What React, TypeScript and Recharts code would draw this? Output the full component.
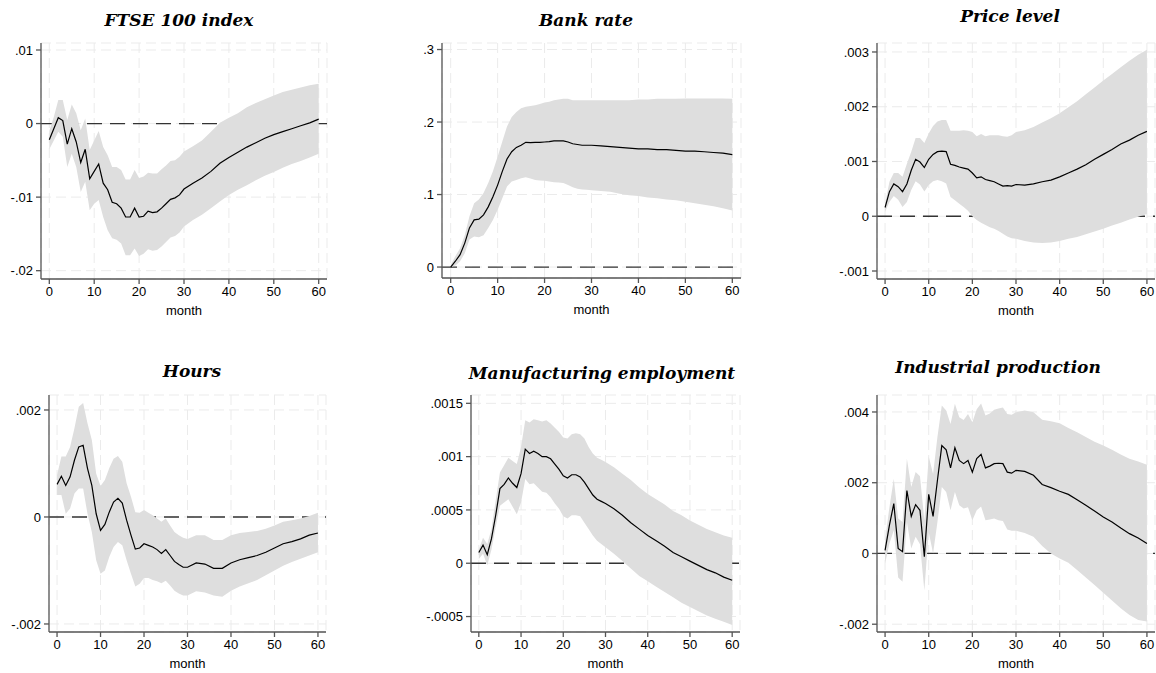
import React from 'react'
import {
  ComposedChart, Area, Line, XAxis, YAxis, CartesianGrid, ReferenceLine
} from 'recharts'

const months = [
  0, 1, 2, 3, 4, 5, 6, 7, 8, 9, 10, 11, 12, 13, 14, 15, 16, 17, 18, 19, 20,
  21, 22, 23, 24, 25, 26, 27, 28, 29, 30,
  32, 34, 36, 38, 40, 42, 44, 46, 48, 50, 52, 54, 56, 58, 60,
]
const monthTicks = [0, 10, 20, 30, 40, 50, 60]

// FTSE 100 index
const ftseIrf = [
  -0.0022, -0.0007, 0.0008, 0.0004, -0.0028, -0.0007, -0.0025, -0.0053, -0.0035, -0.0075, -0.0065,
  -0.0055, -0.0081, -0.009, -0.0107, -0.0109, -0.0115, -0.0127, -0.0127, -0.0115, -0.0127,
  -0.0126, -0.0119, -0.0121, -0.012, -0.0115, -0.0109, -0.0103, -0.0101, -0.0097, -0.0089,
  -0.0081, -0.0074, -0.0065, -0.0054, -0.0046, -0.0039, -0.0032, -0.0026, -0.002, -0.0015,
  -0.0011, -0.0007, -0.0003, 0.0001, 0.0006,
]
const ftseHi = [
  -0.001, 0.0009, 0.0032, 0.0032, 0.0005, 0.0026, 0.0014, -0.0009, 0.0007, -0.0036, -0.0023,
  -0.001, -0.0032, -0.0043, -0.0059, -0.0059, -0.0063, -0.0076, -0.0076, -0.0063, -0.0074,
  -0.0072, -0.0067, -0.0068, -0.0068, -0.0062, -0.0057, -0.0051, -0.005, -0.0045, -0.0038,
  -0.0031, -0.0023, -0.0011, 0.0001, 0.0008, 0.0014, 0.0022, 0.0028, 0.0033, 0.0038,
  0.0043, 0.0046, 0.0049, 0.0052, 0.0054,
]
const ftseLo = [
  -0.0035, -0.0023, -0.0011, -0.0018, -0.0059, -0.0041, -0.0059, -0.0093, -0.0079, -0.0118, -0.0109,
  -0.0104, -0.0127, -0.0145, -0.0156, -0.0158, -0.0163, -0.0179, -0.0179, -0.017, -0.018,
  -0.0177, -0.0171, -0.0173, -0.0172, -0.0167, -0.0161, -0.0155, -0.0153, -0.0148, -0.014,
  -0.0131, -0.0124, -0.0115, -0.0106, -0.0097, -0.009, -0.0084, -0.0077, -0.0071, -0.0066,
  -0.006, -0.0055, -0.0051, -0.0046, -0.0041,
]

// Bank rate
const bankIrf = [
  0, 0.008, 0.017, 0.033, 0.054, 0.065, 0.066, 0.072, 0.083, 0.097, 0.113,
  0.132, 0.149, 0.159, 0.165, 0.168, 0.172, 0.1715, 0.172, 0.172, 0.1725,
  0.173, 0.174, 0.174, 0.174, 0.1725, 0.17, 0.169, 0.168, 0.168, 0.168,
  0.167, 0.166, 0.165, 0.164, 0.163, 0.163, 0.162, 0.162, 0.161, 0.16,
  0.16, 0.159, 0.158, 0.157, 0.155,
]
const bankHi = [
  0.003, 0.015, 0.026, 0.044, 0.07, 0.088, 0.093, 0.102, 0.116, 0.132, 0.152,
  0.173, 0.194, 0.207, 0.214, 0.219, 0.221, 0.222, 0.223, 0.225, 0.227,
  0.228, 0.23, 0.231, 0.232, 0.232, 0.23, 0.23, 0.23, 0.23, 0.23,
  0.23, 0.23, 0.23, 0.23, 0.231, 0.231, 0.232, 0.232, 0.232, 0.2325,
  0.2325, 0.2325, 0.2325, 0.2325, 0.232,
]
const bankLo = [
  0, 0.002, 0.008, 0.019, 0.038, 0.042, 0.041, 0.044, 0.054, 0.065, 0.079,
  0.095, 0.111, 0.118, 0.12, 0.1225, 0.124, 0.122, 0.12, 0.1195, 0.119,
  0.118, 0.117, 0.1165, 0.116, 0.113, 0.11, 0.108, 0.107, 0.1065, 0.106,
  0.105, 0.104, 0.101, 0.099, 0.098, 0.096, 0.095, 0.093, 0.092, 0.09,
  0.088, 0.086, 0.084, 0.081, 0.078,
]

// Price level
const priceIrf = [
  0.00016, 0.00045, 0.00059, 0.00054, 0.00045, 0.00059, 0.00084, 0.00104, 0.00099, 0.00089, 0.00104,
  0.00113, 0.00118, 0.00119, 0.00118, 0.00095, 0.00093, 0.0009, 0.00088, 0.00086, 0.00079,
  0.0007, 0.00072, 0.00067, 0.00065, 0.00063, 0.00059, 0.00055, 0.00056, 0.00055, 0.00058,
  0.00057, 0.00059, 0.00063, 0.00066, 0.00072, 0.00079, 0.00086, 0.00094, 0.00104, 0.00113,
  0.00122, 0.00132, 0.00139, 0.00148, 0.00155,
]
const priceHi = [
  0.00023, 0.00063, 0.00079, 0.00079, 0.00072, 0.00096, 0.00118, 0.00143, 0.00143, 0.00134, 0.00151,
  0.00165, 0.00173, 0.00176, 0.00176, 0.00156, 0.00156, 0.00156, 0.00157, 0.00156, 0.00154,
  0.00146, 0.0015, 0.00146, 0.00148, 0.00148, 0.00148, 0.00146, 0.00145, 0.00148, 0.00154,
  0.00157, 0.00163, 0.00171, 0.00179, 0.00188, 0.00199, 0.0021, 0.00223, 0.00235, 0.00248,
  0.0026, 0.00272, 0.00284, 0.00295, 0.00304,
]
const priceLo = [
  0.00008, 0.00026, 0.00037, 0.0003, 0.00017, 0.00026, 0.00048, 0.00064, 0.00058, 0.00045, 0.00057,
  0.00064, 0.00066, 0.00064, 0.0006, 0.00035, 0.00029, 0.00023, 0.00017, 0.0001, 0,
  -0.00007, -0.00012, -0.00016, -0.0002, -0.00023, -0.00027, -0.00032, -0.00037, -0.0004, -0.00041,
  -0.00045, -0.00048, -0.00049, -0.00048, -0.00045, -0.00041, -0.00038, -0.00033, -0.00028, -0.00023,
  -0.00017, -0.00012, -0.00006, -0.00001, 0.00004,
]

// Hours
const hoursIrf = [
  0.00061, 0.00076, 0.00059, 0.00075, 0.00106, 0.00131, 0.00134, 0.00091, 0.00059, 0.00006, -0.00025,
  -0.00014, 0.00009, 0.00028, 0.00035, 0.00026, -0.00006, -0.00034, -0.0006, -0.00058, -0.0005,
  -0.00053, -0.00056, -0.00061, -0.00068, -0.00061, -0.00072, -0.00083, -0.00089, -0.00094, -0.00094,
  -0.00086, -0.00088, -0.00096, -0.00096, -0.00086, -0.0008, -0.00076, -0.00072, -0.00066, -0.00058,
  -0.0005, -0.00046, -0.00041, -0.00034, -0.0003,
]
const hoursHi = [
  0.00078, 0.00113, 0.00113, 0.00131, 0.00166, 0.00206, 0.00213, 0.00175, 0.00144, 0.00081, 0.00058,
  0.00069, 0.00091, 0.00109, 0.00114, 0.00103, 0.00063, 0.00038, 0.00009, 0.00008, 0.00013,
  0.00008, 0.00003, -0.00003, -0.00009, -0.00003, -0.00016, -0.00028, -0.00034, -0.00039, -0.00041,
  -0.00034, -0.00034, -0.00043, -0.00043, -0.00034, -0.0003, -0.00028, -0.00026, -0.00022, -0.00016,
  -0.00009, -0.00006, -0.00003, 0.00002, 0.00008,
]
const hoursLo = [
  0.00041, 0.00041, 0.00006, 0.00016, 0.00044, 0.00053, 0.00053, 0.00006, -0.00028, -0.00081, -0.00106,
  -0.001, -0.00075, -0.00056, -0.00047, -0.00053, -0.00081, -0.00106, -0.0013, -0.00125, -0.00114,
  -0.00114, -0.00118, -0.0012, -0.00124, -0.00119, -0.00128, -0.00138, -0.00143, -0.00147, -0.00147,
  -0.00139, -0.00141, -0.00147, -0.00149, -0.00138, -0.0013, -0.00124, -0.00118, -0.00109, -0.001,
  -0.00091, -0.00084, -0.00078, -0.00072, -0.00066,
]

// Manufacturing employment
const mfgIrf = [
  0.0001, 0.00017, 0.00008, 0.00023, 0.00045, 0.0007, 0.00074, 0.0008, 0.00075, 0.00071, 0.00084,
  0.00107, 0.00103, 0.00105, 0.00103, 0.001, 0.001, 0.00098, 0.00093, 0.00088, 0.00082,
  0.0008, 0.00083, 0.00083, 0.00081, 0.00076, 0.0007, 0.00064, 0.0006, 0.00058, 0.00056,
  0.00051, 0.00045, 0.00038, 0.00032, 0.00026, 0.00021, 0.00016, 0.0001, 0.00006, 0.00002,
  -0.00002, -0.00006, -0.00009, -0.00013, -0.00016,
]
const mfgHi = [
  0.00013, 0.00024, 0.00018, 0.00032, 0.00059, 0.00085, 0.00092, 0.00099, 0.00096, 0.00093, 0.00109,
  0.00134, 0.00132, 0.00135, 0.00134, 0.00133, 0.00134, 0.00131, 0.00127, 0.00123, 0.00118,
  0.00117, 0.00121, 0.00122, 0.00121, 0.00117, 0.00109, 0.00103, 0.00099, 0.00097, 0.00095,
  0.0009, 0.00084, 0.00078, 0.00071, 0.00065, 0.0006, 0.00055, 0.00049, 0.00045, 0.0004,
  0.00036, 0.00032, 0.00029, 0.00026, 0.00024,
]
const mfgLo = [
  0.00004, 0.00009, -0.00002, 0.00013, 0.00034, 0.00054, 0.00057, 0.0006, 0.00053, 0.00046, 0.00057,
  0.00079, 0.00074, 0.00075, 0.00071, 0.00067, 0.00066, 0.00062, 0.00056, 0.00051, 0.00044,
  0.00042, 0.00045, 0.00045, 0.00044, 0.00038, 0.00032, 0.00026, 0.00021, 0.00018, 0.00015,
  0.00009, 0.00002, -0.00005, -0.00012, -0.00017, -0.00022, -0.00027, -0.00032, -0.00037, -0.00041,
  -0.00045, -0.00049, -0.00052, -0.00055, -0.00058,
]

// Industrial production
const ipIrf = [
  0.00009, 0.0008, 0.00141, 0.00014, 0.00005, 0.00178, 0.00105, 0.00138, 0.00122, -0.00009, 0.00167,
  0.00105, 0.00207, 0.00305, 0.00293, 0.00242, 0.00299, 0.00263, 0.00254, 0.00263, 0.0023,
  0.00268, 0.0028, 0.00242, 0.00247, 0.00254, 0.00255, 0.00254, 0.0023, 0.00227, 0.00235,
  0.00232, 0.00221, 0.00195, 0.00186, 0.00176, 0.00167, 0.00152, 0.00136, 0.0012, 0.00103,
  0.00089, 0.00072, 0.00056, 0.00044, 0.00028,
]
const ipHi = [
  0.00038, 0.00131, 0.00211, 0.00099, 0.00089, 0.00268, 0.00188, 0.0023, 0.00218, 0.00094, 0.00274,
  0.00225, 0.00329, 0.00418, 0.00404, 0.00366, 0.00423, 0.00385, 0.00377, 0.00394, 0.00371,
  0.00408, 0.00424, 0.0039, 0.00396, 0.00406, 0.0041, 0.00413, 0.00394, 0.00392, 0.00399,
  0.00404, 0.00399, 0.00378, 0.00374, 0.00368, 0.00355, 0.00343, 0.00329, 0.00316, 0.00305,
  0.00293, 0.0028, 0.00268, 0.0026, 0.00251,
]
const ipLo = [
  -0.00028, 0.00028, 0.00066, -0.00068, -0.0008, 0.00089, 0.00014, 0.00047, 0.00026, -0.00105, 0.00061,
  0, 0.00089, 0.00188, 0.00174, 0.00122, 0.00174, 0.00136, 0.00127, 0.00131, 0.00094,
  0.00122, 0.00133, 0.00094, 0.00096, 0.00099, 0.00094, 0.00092, 0.00068, 0.00064, 0.00064,
  0.00058, 0.00047, 0.00021, 0, -0.00014, -0.00026, -0.00047, -0.00068, -0.00089, -0.00111,
  -0.00133, -0.00155, -0.00174, -0.00188, -0.00192,
]

const titles = [
  'FTSE 100 index', 'Bank rate', 'Price level',
  'Hours', 'Manufacturing employment', 'Industrial production',
]
const yTickSets = [
  [-0.02, -0.01, 0, 0.01],
  [0, 0.1, 0.2, 0.3],
  [-0.001, 0, 0.001, 0.002, 0.003],
  [-0.002, 0, 0.002],
  [-0.0005, 0, 0.0005, 0.001, 0.0015],
  [-0.002, 0, 0.002, 0.004],
]
const yDomains: [number, number][] = [
  [-0.02113, 0.01095],
  [-0.0151, 0.309],
  [-0.001146, 0.003164],
  [-0.00215, 0.00228],
  [-0.000645, 0.001578],
  [-0.00222, 0.00448],
]
const series = [
  [ftseIrf, ftseLo, ftseHi],
  [bankIrf, bankLo, bankHi],
  [priceIrf, priceLo, priceHi],
  [hoursIrf, hoursLo, hoursHi],
  [mfgIrf, mfgLo, mfgHi],
  [ipIrf, ipLo, ipHi],
]

// plot boxes (left, top, right, bottom) and title centres, in page pixels
const boxes = [
  { l: 41, t: 43, r: 327, b: 279, tx: 179, ty: 20 },
  { l: 442, t: 43, r: 741, b: 278, tx: 586, ty: 20 },
  { l: 877, t: 43, r: 1155, b: 279, tx: 1010, ty: 16 },
  { l: 49, t: 395, r: 326, b: 632, tx: 192, ty: 371 },
  { l: 471, t: 395, r: 740, b: 632, tx: 602, ty: 373 },
  { l: 877, t: 395, r: 1155, b: 632, tx: 998, ty: 367 },
]

const YW = 50
const XH = 40
const PAD = 5
const AXIS = '#555'
const SANS = '"Liberation Sans", Arial, sans-serif'

const fmtY = (v: number) => (v === 0 ? '0' : String(v).replace('0.', '.'))

function Panel({ idx }: { idx: number }) {
  const box = boxes[idx]
  const [irf, lo, hi] = series[idx]
  const rows = months.map((m, i) => ({ month: m, irf: irf[i], band: [lo[i], hi[i]] }))
  const w = YW + (box.r - box.l) + PAD
  const h = PAD + (box.b - box.t) + XH

  return (
    <>
      <div
        style={{
          position: 'absolute', left: box.tx, top: box.ty, transform: 'translate(-50%, -50%)',
          fontFamily: '"DejaVu Serif", serif', fontWeight: 'bold', fontStyle: 'italic',
          fontSize: 17, whiteSpace: 'nowrap', color: '#000',
        }}
      >
        {titles[idx]}
      </div>
      <div style={{ position: 'absolute', left: box.l - YW, top: box.t - PAD }}>
        <ComposedChart width={w} height={h} data={rows} margin={{ top: PAD, right: PAD, left: 0, bottom: 0 }}>
          <CartesianGrid stroke="#ebebeb" strokeDasharray="10 5" />
          <XAxis
            dataKey="month" type="number" domain={[-1.85, 61.85]} ticks={monthTicks}
            interval={0} allowDataOverflow height={XH}
            stroke={AXIS} strokeWidth={1.3} tickSize={5} tickMargin={3}
            tick={{ fill: '#000', fontSize: 13, fontFamily: SANS }}
            label={{ value: 'month', position: 'insideBottom', offset: 4, fill: '#000', fontSize: 13, fontFamily: SANS }}
          />
          <YAxis
            type="number" domain={yDomains[idx]} ticks={yTickSets[idx]} interval={0}
            allowDataOverflow width={YW} tickFormatter={fmtY}
            stroke={AXIS} strokeWidth={1.3} tickSize={5} tickMargin={3}
            tick={{ fill: '#000', fontSize: 13, fontFamily: SANS }}
          />
          <ReferenceLine y={0} stroke="#333" strokeWidth={1.3} strokeDasharray="15 8" zIndex={50} />
          <Area
            type="linear" dataKey="band" stroke="none" fill="#dedede" fillOpacity={1}
            isAnimationActive={false} dot={false} activeDot={false}
          />
          <Line
            type="linear" dataKey="irf" stroke="#000" strokeWidth={1.2}
            dot={false} activeDot={false} isAnimationActive={false}
          />
        </ComposedChart>
      </div>
    </>
  )
}

export default function App() {
  return (
    <div style={{ position: 'absolute', left: 0, top: 0, width: 1156, height: 673, background: '#fff' }}>
      {titles.map((_, i) => <Panel key={i} idx={i} />)}
    </div>
  )
}
